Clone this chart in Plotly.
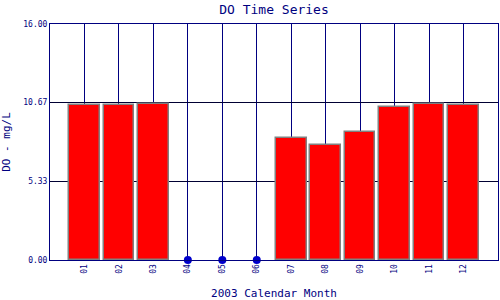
import plotly.graph_objects as go

months = ["01", "02", "03", "04", "05", "06", "07", "08", "09", "10", "11", "12"]
do_values = [10.50, 10.50, 10.57, 0, 0, 0, 8.27, 7.80, 8.70, 10.35, 10.55, 10.50]
missing_months = ["04", "05", "06"]
missing_values = [0, 0, 0]
y_ticks = [0.0, 5.33, 10.67, 16.0]
y_tick_text = ["0.00", "5.33", "10.67", "16.00"]

navy = "#000080"
font_family = "DejaVu Sans Mono"

pos = {m: i + 1 for i, m in enumerate(months)}
bar_x = [pos[m] for m, v in zip(months, do_values) if v > 0]
bar_y = [v for v in do_values if v > 0]

fig = go.Figure()
fig.add_trace(go.Bar(
    x=bar_x, y=bar_y, width=0.89,
    marker=dict(color="#ff0000", line=dict(color="#808080", width=1.5)),
    showlegend=False,
))
fig.add_trace(go.Scatter(
    x=[pos[m] for m in missing_months], y=missing_values, mode="markers",
    marker=dict(color="#0000cc", size=8),
    cliponaxis=False, showlegend=False,
))

fig.update_layout(
    width=500, height=300,
    margin=dict(l=50, r=2, t=24, b=40),
    paper_bgcolor="white", plot_bgcolor="white",
    font=dict(family=font_family, color=navy),
    title=dict(text="DO Time Series", x=0.548, xanchor="center", y=0.985, yanchor="top",
               font=dict(size=13, color=navy, family=font_family)),
    bargap=0,
)
fig.update_xaxes(
    range=[0, 13], tickmode="array",
    tickvals=[pos[m] for m in months], ticktext=months,
    tickangle=-90, tickfont=dict(size=8, color=navy),
    showgrid=True, gridcolor=navy, gridwidth=1,
    showline=True, linecolor=navy, linewidth=1, mirror=True,
    ticks="", zeroline=False,
    title=dict(text="2003 Calendar Month", font=dict(size=11, color=navy), standoff=16),
)
fig.update_yaxes(
    range=[0, 16], tickmode="array", tickvals=y_ticks, ticktext=y_tick_text,
    tickfont=dict(size=8, color=navy),
    showgrid=True, gridcolor="#000033", gridwidth=1,
    showline=True, linecolor=navy, linewidth=1, mirror=True,
    ticks="", zeroline=False,
    title=dict(text="DO - mg/L", font=dict(size=11, color=navy), standoff=10),
)

fig.write_html("out.html")
